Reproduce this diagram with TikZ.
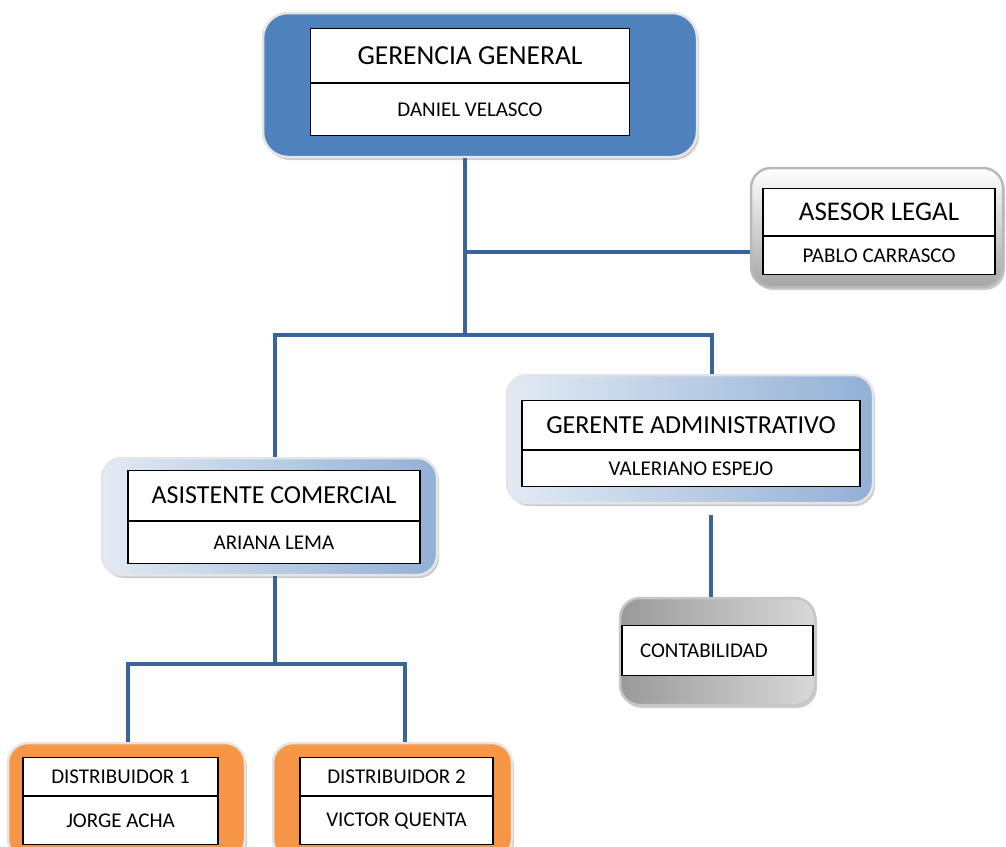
\documentclass[tikz,border=0pt]{standalone}
\usepackage{fontspec}
\setmainfont{Carlito}
\usetikzlibrary{shadows}

\definecolor{azul}{HTML}{4F81BD}
\definecolor{azulclaro}{HTML}{E2EAF4}
\definecolor{azulmedio}{HTML}{92B0D5}
\definecolor{naranja}{HTML}{F79646}
\definecolor{linea}{HTML}{3A6497}

\begin{document}
\begin{tikzpicture}[x=1pt,y=-1pt,
    marco/.style={rounded corners=20pt, draw=gray!20, line width=2.5pt,
        drop shadow={shadow xshift=2pt,shadow yshift=-3pt,opacity=0.4}},
    cargo/.style={draw=black, fill=white, line width=1.2pt, inner sep=0pt,
        anchor=north, font=\fontsize{26}{30}\selectfont},
    nombre/.style={cargo, font=\fontsize{21}{25}\selectfont},
    rama/.style={draw=linea, line width=4.5pt}]
    \useasboundingbox (0,0) rectangle (1006,846);

    % gerencia general
    \node[marco, fill=azul, rounded corners=25pt, minimum width=434, minimum height=144] (gg) at (480,85) {};
    \node[cargo, minimum width=319, minimum height=54, font=\fontsize{27.5}{31}\selectfont] (gg-t) at (470,28) {GERENCIA GENERAL};
    \node[nombre, minimum width=319, minimum height=52] (gg-n) at (gg-t.south) {DANIEL VELASCO};

    % asesor legal
    \node[marco, draw=gray!55, top color=white, bottom color=gray!70, minimum width=252, minimum height=119] (al) at (877,227.5) {};
    \node[cargo, minimum width=232, minimum height=47, font=\fontsize{27}{31}\selectfont] (al-t) at (879,188) {ASESOR LEGAL};
    \node[nombre, minimum width=232, minimum height=38] (al-n) at (al-t.south) {PABLO CARRASCO};

    % gerente administrativo
    \node[marco, left color=azulclaro, right color=azulmedio, minimum width=366, minimum height=128] (ga) at (690,439) {};
    \node[cargo, minimum width=338, minimum height=49] (ga-t) at (691,400) {GERENTE ADMINISTRATIVO};
    \node[nombre, minimum width=338, minimum height=36] (ga-n) at (ga-t.south) {VALERIANO ESPEJO};

    % asistente comercial
    \node[marco, left color=azulclaro, right color=azulmedio, minimum width=335, minimum height=117] (ac) at (269.5,516.5) {};
    \node[cargo, minimum width=292, minimum height=50] (ac-t) at (274,470) {ASISTENTE COMERCIAL};
    \node[nombre, minimum width=292, minimum height=42] (ac-n) at (ac-t.south) {ARIANA LEMA};

    % contabilidad
    \node[marco, draw=gray!45, left color=gray!80, right color=gray!30, minimum width=195, minimum height=107] (ct) at (717.5,651.5) {};
    \node[nombre, text width=155, inner xsep=18, align=left, minimum height=50] (ct-t) at (717.5,625) {CONTABILIDAD};

    % distribuidores
    \node[marco, fill=naranja, minimum width=237, minimum height=116] (d1) at (126.5,801) {};
    \node[nombre, minimum width=195, minimum height=38] (d1-t) at (120.5,757) {DISTRIBUIDOR 1};
    \node[nombre, minimum width=195, minimum height=48] (d1-n) at (d1-t.south) {JORGE ACHA};
    \node[marco, fill=naranja, minimum width=239, minimum height=116] (d2) at (392.5,801) {};
    \node[nombre, minimum width=193, minimum height=38] (d2-t) at (396.5,757) {DISTRIBUIDOR 2};
    \node[nombre, minimum width=193, minimum height=48] (d2-n) at (d2-t.south) {VICTOR QUENTA};

    % ramas
    \coordinate (c1) at (465,335);
    \coordinate (c2) at (465,252);
    \coordinate (c3) at (275,335);
    \coordinate (c4) at (712,335);
    \coordinate (c5) at (275,664);
    \coordinate (c6) at (128,664);
    \coordinate (c7) at (405,664);
    \coordinate (c8) at (711,515);
    \draw[rama] (c1 |- gg.south) -- (c1);
    \draw[rama] (c2) -- (c2 -| al.west);
    \draw[rama] (c3 |- ac.north) -- (c3) -- (c4) -- (c4 |- ga.north);
    \draw[rama] (c5 |- ac.south) -- (c5);
    \draw[rama] (c6 |- d1.north) -- (c6) -- (c7) -- (c7 |- d2.north);
    \draw[rama] (c8) -- (c8 |- ct.north);
\end{tikzpicture}
\end{document}
